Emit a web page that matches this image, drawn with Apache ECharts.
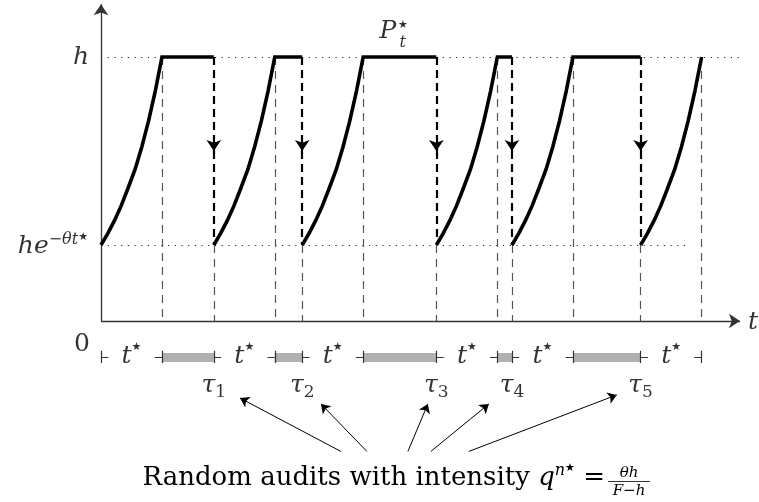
<!DOCTYPE html>
<html>
<head>
<meta charset="utf-8">
<script src="https://cdn.jsdelivr.net/npm/echarts@6/dist/echarts.min.js"></script>
<style>
  html, body { margin: 0; padding: 0; background: #fff; }
  #chart { width: 759px; height: 502px; }
</style>
</head>
<body>
<div id="chart"></div>
<script>
// Time is measured in units of the optimal inaction spell t*
const tStar = 1;
// Random audit instants tau_1 .. tau_5
const auditTimes = [1.85, 3.3, 5.5, 6.74, 8.85];
const auditIndex = ['1', '2', '3', '4', '5'];
// Price levels, in units of h
const hLevel = 1;
const resetLevel = 0.288;          // h e^{-theta t*}
// One rising phase: offset inside the spell (in t*) and the level reached
const riseOffsets = [0, 0.11, 0.22, 0.33, 0.44, 0.56, 0.67, 0.78, 0.89, 1];
const riseLevels  = [0.288, 0.331, 0.38, 0.436, 0.501, 0.575, 0.66, 0.758, 0.871, 1];

// Axis extents
const xMax = 10.48, yMax = 1.2, yMin = -0.68;

// Annotation rows below the time axis
const bracketY = -0.136, tickHalf = 0.023, stub = 0.12;
const tauY = -0.246;
const captionTopY = -0.494;
// caption arrows: start x on the caption, tip offset from the audit instant, tip height
const arrowFromX = [3.934, 4.361, 5.033, 5.41, 6.033];
const arrowTipDx = [0.43, 0.307, -0.139, -0.379, -0.391];
const arrowTipY  = [-0.292, -0.314, -0.314, -0.314, -0.28];

const SERIF = '"DejaVu Serif", "Liberation Serif", serif';
const STAR = '"DejaVu Sans", sans-serif';
const rich = {
  i:   { fontFamily: SERIF, fontStyle: 'italic', fontSize: 25, color: '#000', lineHeight: 30, verticalAlign: 'middle' },
  r:   { fontFamily: SERIF, fontSize: 25, color: '#000', lineHeight: 30, verticalAlign: 'middle' },
  s:   { fontFamily: SERIF, fontStyle: 'italic', fontSize: 16, color: '#000', lineHeight: 15, verticalAlign: 'top' },
  st:  { fontFamily: STAR, fontSize: 11, color: '#000', lineHeight: 15, verticalAlign: 'top' },
  sub: { fontFamily: SERIF, fontSize: 17, color: '#000', lineHeight: 13, verticalAlign: 'bottom' },
  ci:  { fontFamily: SERIF, fontStyle: 'italic', fontSize: 26, color: '#000', lineHeight: 30, verticalAlign: 'middle' },
  cr:  { fontFamily: SERIF, fontSize: 26, color: '#000', lineHeight: 30, verticalAlign: 'middle' }
};

// cycle starts: the origin and every audit
const cycleStarts = [0].concat(auditTimes);
const peaks = cycleStarts.map(s => s + tStar);
const midDrop = (hLevel + resetLevel) / 2;

// price path, one series per cycle
const pathSeries = cycleStarts.map((s, k) => {
  const pts = riseOffsets.map((o, j) => [s + o * tStar, riseLevels[j]]);
  if (k < auditTimes.length) pts.push([auditTimes[k], hLevel]);
  return {
    type: 'line', data: pts, symbol: 'none', smooth: false, z: 10,
    lineStyle: { color: '#000', width: 3.6, join: 'miter', cap: 'butt' }
  };
});

const seg = (a, b) => ({ coords: [a, b] });
const ls = (o) => Object.assign({ opacity: 1, type: 'solid', curveness: 0 }, o);

const series = [
  // dotted guide levels
  {
    type: 'lines', coordinateSystem: 'cartesian2d', z: 1,
    lineStyle: ls({ color: '#222', width: 1, type: [1.2, 5.5] }),
    data: [seg([0, hLevel], [xMax - 0.02, hLevel]), seg([0, resetLevel], [9.65, resetLevel])]
  },
  // thin dashed drop-lines at peaks and below each reset
  {
    type: 'lines', coordinateSystem: 'cartesian2d', z: 2,
    lineStyle: ls({ color: '#555', width: 1.2, type: [8, 6] }),
    data: peaks.map(p => seg([p, hLevel], [p, 0]))
      .concat(auditTimes.map(a => seg([a, resetLevel], [a, 0])))
  },
  // audit jumps: thick dashed, arrow half way down
  {
    type: 'lines', coordinateSystem: 'cartesian2d', z: 3,
    symbol: ['none', 'arrow'], symbolSize: [0, 11],
    lineStyle: ls({ color: '#000', width: 2.2, type: [8, 5] }),
    data: auditTimes.map(a => seg([a, hLevel], [a, midDrop]))
  },
  {
    type: 'lines', coordinateSystem: 'cartesian2d', z: 3,
    lineStyle: ls({ color: '#000', width: 2.2, type: [8, 5] }),
    data: auditTimes.map(a => seg([a, midDrop], [a, resetLevel]))
  },
  // axes with arrow heads
  {
    type: 'lines', coordinateSystem: 'cartesian2d', z: 4, clip: false,
    symbol: ['none', 'arrow'], symbolSize: [0, 11],
    lineStyle: ls({ color: '#333', width: 1.3 }),
    data: [seg([0, 0], [xMax, 0]), seg([0, 0], [0, yMax])]
  },
  // hold spells shown as grey bars
  {
    type: 'lines', coordinateSystem: 'cartesian2d', z: 2,
    lineStyle: ls({ color: '#b0b0b0', width: 9, cap: 'butt' }),
    data: auditTimes.map((a, k) => seg([peaks[k], bracketY], [a, bracketY]))
  },
  // t* brackets
  {
    type: 'lines', coordinateSystem: 'cartesian2d', z: 3,
    lineStyle: ls({ color: '#333', width: 1.2 }),
    data: [].concat(...cycleStarts.map((s, k) => [
      seg([s, bracketY - tickHalf], [s, bracketY + tickHalf]),
      seg([s, bracketY], [s + stub, bracketY]),
      seg([peaks[k] - stub, bracketY], [peaks[k], bracketY]),
      seg([peaks[k], bracketY - tickHalf], [peaks[k], bracketY + tickHalf])
    ]))
  },
  // caption arrows pointing at the audit labels
  {
    type: 'lines', coordinateSystem: 'cartesian2d', z: 3,
    symbol: ['none', 'arrow'], symbolSize: [0, 9],
    lineStyle: ls({ color: '#000', width: 1 }),
    data: auditTimes.map((a, k) => seg([arrowFromX[k], captionTopY], [a + arrowTipDx[k], arrowTipY[k]]))
  }
].concat(pathSeries);

// text labels placed in data coordinates
const lbl = (x, y, formatter, extra) => ({
  value: [x, y],
  label: Object.assign({ show: true, formatter: formatter, rich: rich, position: 'inside' }, extra || {})
});
const labelData = [
  lbl(0, hLevel, '{i|h}', { position: 'left', distance: 12 }),
  lbl(0, resetLevel, '{i|he}{s|−θt}{st|★}', { position: 'left', distance: 13, offset: [0, 2] }),
  lbl(0, 0, '{r|0}', { position: 'left', distance: 11, offset: [0, 23] }),
  lbl(xMax, 0, '{i|t}', { position: 'right', distance: 8, offset: [0, 1] }),
  lbl(4.705, 1.098, '{i|P}'),
  lbl(4.95, 1.083, '{st|★}\n{s|t}', { lineHeight: 12 })
]
  .concat(cycleStarts.map((s, k) => lbl((s + peaks[k]) / 2, bracketY, '{i|t}{st|★}')))
  .concat(auditTimes.map((a, k) => lbl(a, tauY, '{i|τ}{sub|' + auditIndex[k] + '}')));

series.push({
  type: 'scatter', symbolSize: 0, z: 20, clip: false,
  itemStyle: { color: 'transparent' },
  data: labelData
});

const chart = echarts.init(document.getElementById('chart'), null, { renderer: 'canvas' });
chart.setOption({
  animation: false,
  backgroundColor: '#fff',
  grid: { left: 101, right: 19, top: 4.2, bottom: 1.48 },
  xAxis: { type: 'value', min: 0, max: xMax, show: false },
  yAxis: { type: 'value', min: yMin, max: yMax, show: false },
  series: series,
  graphic: [
    {
      type: 'text', z: 30,
      style: {
        x: 605, y: 478,
        text: '{cr|Random audits with intensity }{ci|q}{s|n}{st|★}{cr| =}',
        rich: rich,
        textAlign: 'right', textVerticalAlign: 'middle',
        align: 'right', verticalAlign: 'middle'
      }
    },
    {
      type: 'text', z: 30,
      style: { x: 629, y: 473, text: 'θh', font: 'italic 15px ' + SERIF, fill: '#000',
        textAlign: 'center', textVerticalAlign: 'middle', align: 'center', verticalAlign: 'middle' }
    },
    {
      type: 'line', z: 30,
      shape: { x1: 608, y1: 481.5, x2: 650, y2: 481.5 },
      style: { stroke: '#000', lineWidth: 0.8 }
    },
    {
      type: 'text', z: 30,
      style: { x: 629, y: 491, text: 'F−h', font: 'italic 15px ' + SERIF, fill: '#000',
        textAlign: 'center', textVerticalAlign: 'middle', align: 'center', verticalAlign: 'middle' }
    }
  ]
});
</script>
</body>
</html>
